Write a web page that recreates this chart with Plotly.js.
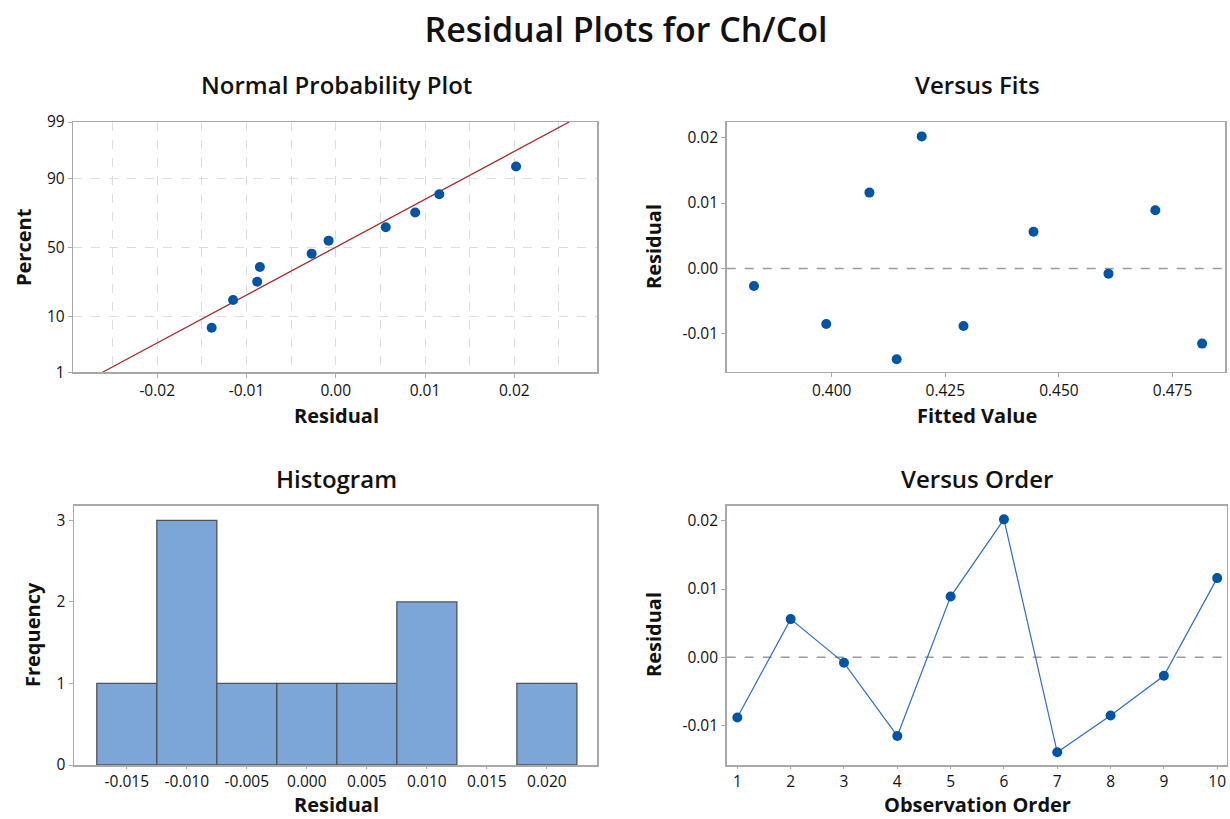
<!DOCTYPE html>
<html>
<head>
<meta charset="utf-8">
<script src="https://cdn.plot.ly/plotly-3.0.1.min.js"></script>
<style>
  html, body { margin: 0; padding: 0; background: #ffffff; }
  #chart { width: 1230px; height: 819px; }
</style>
</head>
<body>
<div id="chart"></div>
<script>
// Residuals and fitted values, listed in observation order
const observationOrder = [1, 2, 3, 4, 5, 6, 7, 8, 9, 10];
const residuals = [-0.0088, 0.0056, -0.0008, -0.0115, 0.0089, 0.0202, -0.0139, -0.0085, -0.0027, 0.0116];
const fittedValues = [0.4290, 0.4444, 0.4609, 0.4815, 0.4712, 0.4198, 0.4143, 0.3988, 0.3829, 0.4083];

// Plotting percentages of the sorted residuals on the normal probability scale
const probPercent = [6.7, 16.3, 26.0, 35.6, 45.2, 54.8, 64.4, 74.0, 83.7, 93.3];
const probTickPercent = [1, 10, 50, 90, 99];

// Tick values for the residual and histogram axes
const normalTicks = [-0.02, -0.01, 0.00, 0.01, 0.02];
const residTicks = [-0.01, 0.00, 0.01, 0.02];
const fitTicks = [0.400, 0.425, 0.450, 0.475];
const histTicks = [-0.015, -0.010, -0.005, 0.000, 0.005, 0.010, 0.015, 0.020];

// Inverse standard normal CDF (Acklam's rational approximation)
function qnorm(p) {
  const a = [-3.969683028665376e+01, 2.209460984245205e+02, -2.759285104469687e+02,
             1.383577518672690e+02, -3.066479806614716e+01, 2.506628277459239e+00];
  const b = [-5.447609879822406e+01, 1.615858368580409e+02, -1.556989798598866e+02,
             6.680131188771972e+01, -1.328068155288572e+01];
  const c = [-7.784894002430293e-03, -3.223964580411365e-01, -2.400758277161838e+00,
             -2.549671010422000e+00, 4.374664141464968e+00, 2.938163982698783e+00];
  const d = [7.784695709041462e-03, 3.224671290700398e-01, 2.445134137142996e+00,
             3.754408661907416e+00];
  const pl = 0.02425, ph = 1 - pl;
  let q, r;
  if (p < pl) {
    q = Math.sqrt(-2 * Math.log(p));
    return (((((c[0]*q + c[1])*q + c[2])*q + c[3])*q + c[4])*q + c[5]) /
           ((((d[0]*q + d[1])*q + d[2])*q + d[3])*q + 1);
  } else if (p <= ph) {
    q = p - 0.5; r = q * q;
    return (((((a[0]*r + a[1])*r + a[2])*r + a[3])*r + a[4])*r + a[5]) * q /
           (((((b[0]*r + b[1])*r + b[2])*r + b[3])*r + b[4])*r + 1);
  } else {
    q = Math.sqrt(-2 * Math.log(1 - p));
    return -(((((c[0]*q + c[1])*q + c[2])*q + c[3])*q + c[4])*q + c[5]) /
            ((((d[0]*q + d[1])*q + d[2])*q + d[3])*q + 1);
  }
}

const sortedResid = residuals.slice().sort((u, v) => u - v);
const n = residuals.length;
const mean = residuals.reduce((s, v) => s + v, 0) / n;
const sd = Math.sqrt(residuals.reduce((s, v) => s + (v - mean) ** 2, 0) / (n - 1));
const zLow = qnorm(probTickPercent[0] / 100);
const zHigh = qnorm(probTickPercent[probTickPercent.length - 1] / 100);

const FONT = '"Open Sans", "Noto Sans", "DejaVu Sans", sans-serif';
const BLUE = '#0054A6';
const BORDER = '#A8A8A8';
const TICKCOL = '#111111';

const W = 1230, H = 819;
const px = v => v / W;
const py = v => 1 - v / H;

function frame(extra) {
  return Object.assign({
    showline: true, mirror: true, linecolor: BORDER, linewidth: 1.5,
    ticks: 'outside', ticklen: 4, tickwidth: 1, tickcolor: BORDER,
    tickfont: { family: FONT, size: 15.5, color: TICKCOL },
    showgrid: false, zeroline: false, fixedrange: true
  }, extra);
}

const traces = [
  // Normal probability plot: fitted normal line
  {
    type: 'scatter', mode: 'lines', xaxis: 'x', yaxis: 'y',
    x: [mean + sd * zLow, mean + sd * zHigh], y: [zLow, zHigh],
    line: { color: '#A8282A', width: 1.3 }, hoverinfo: 'skip'
  },
  // Normal probability plot: residual points
  {
    type: 'scatter', mode: 'markers', xaxis: 'x', yaxis: 'y',
    x: sortedResid, y: probPercent.map(p => qnorm(p / 100)),
    marker: { color: BLUE, size: 10 }
  },
  // Versus fits
  {
    type: 'scatter', mode: 'markers', xaxis: 'x2', yaxis: 'y2',
    x: fittedValues, y: residuals,
    marker: { color: BLUE, size: 10 }
  },
  // Histogram of residuals
  {
    type: 'histogram', xaxis: 'x3', yaxis: 'y3',
    x: residuals,
    xbins: { start: -0.0175, end: 0.0225, size: 0.005 },
    marker: { color: '#7DA6D8', line: { color: '#525252', width: 1.3 } }
  },
  // Versus order
  {
    type: 'scatter', mode: 'lines+markers', xaxis: 'x4', yaxis: 'y4',
    x: observationOrder, y: residuals,
    line: { color: '#2F6DC0', width: 1.2 },
    marker: { color: BLUE, size: 10 }
  }
];

// Panel titles and axis titles, placed in pixels: [text, x, y, angle, vertical anchor]
const panelTitles = [
  ['Normal Probability Plot', 336, 85],
  ['Versus Fits', 977, 85],
  ['Histogram', 336, 478],
  ['Versus Order', 977, 478]
];
const axisTitles = [
  ['Residual', 336, 415, 0, 'middle'],
  ['Percent', 23, 247, -90, 'middle'],
  ['Fitted Value', 977, 415, 0, 'middle'],
  ['Residual', 653, 247, -90, 'middle'],
  ['Residual', 336, 818.6, 0, 'bottom'],
  ['Frequency', 32, 635, -90, 'middle'],
  ['Observation Order', 977, 818.6, 0, 'bottom'],
  ['Residual', 653, 635, -90, 'middle']
];

const layout = {
  width: W, height: H,
  margin: { l: 0, r: 0, t: 0, b: 0 },
  paper_bgcolor: '#ffffff', plot_bgcolor: '#ffffff',
  showlegend: false, bargap: 0,
  title: {
    text: 'Residual Plots for Ch/Col',
    x: px(626), xanchor: 'center', y: py(30), yanchor: 'middle',
    font: { family: FONT, size: 34, color: '#111', weight: 600 }
  },
  // Normal probability plot
  xaxis: frame({
    domain: [px(73.3), px(597.3)], range: [-0.0294, 0.0293], anchor: 'y',
    tickvals: normalTicks, ticktext: normalTicks.map(v => v.toFixed(2)),
    showgrid: true, gridcolor: '#DCDCDC', griddash: 'dash', gridwidth: 1,
    minor: { dtick: 0.005, tick0: 0, showgrid: true, gridcolor: '#DCDCDC', griddash: 'dash', gridwidth: 1, ticks: '' }
  }),
  yaxis: frame({
    domain: [py(372.3), py(122)], range: [zLow, zHigh], anchor: 'x',
    tickvals: probTickPercent.map(p => qnorm(p / 100)), ticktext: probTickPercent.map(String),
    showgrid: true, gridcolor: '#DCDCDC', griddash: 'dash', gridwidth: 1
  }),
  // Versus fits
  xaxis2: frame({
    domain: [px(726.7), px(1225.3)], range: [0.3769, 0.4866], anchor: 'y2',
    tickvals: fitTicks, ticktext: fitTicks.map(v => v.toFixed(3))
  }),
  yaxis2: frame({
    domain: [py(371.7), py(122)], range: [-0.0158, 0.0224], anchor: 'x2',
    tickvals: residTicks, ticktext: residTicks.map(v => v.toFixed(2))
  }),
  // Histogram
  xaxis3: frame({
    domain: [px(74), px(597.3)], range: [-0.0194, 0.0242], anchor: 'y3',
    tickvals: histTicks, ticktext: histTicks.map(v => v.toFixed(3)), ticklen: 2
  }),
  yaxis3: frame({
    domain: [py(765), py(505.7)], range: [0, 3.18], anchor: 'x3',
    tickvals: [0, 1, 2, 3]
  }),
  // Versus order
  xaxis4: frame({
    domain: [px(726.7), px(1226.8)], range: [0.8, 10.18], anchor: 'y4',
    tickvals: observationOrder, ticklen: 2
  }),
  yaxis4: frame({
    domain: [py(765.3), py(505.7)], range: [-0.0158, 0.0222], anchor: 'x4',
    tickvals: residTicks, ticktext: residTicks.map(v => v.toFixed(2))
  }),
  shapes: [
    { type: 'line', xref: 'x2 domain', yref: 'y2', x0: 0, x1: 1, y0: 0, y1: 0,
      line: { color: '#9A9A9A', width: 1.5, dash: 'dash' }, layer: 'below' },
    { type: 'line', xref: 'x4 domain', yref: 'y4', x0: 0, x1: 1, y0: 0, y1: 0,
      line: { color: '#9A9A9A', width: 1.5, dash: 'dash' }, layer: 'below' }
  ],
  annotations: panelTitles.map(([t, x, y]) => ({
    text: t, xref: 'paper', yref: 'paper', x: px(x), y: py(y),
    xanchor: 'center', yanchor: 'middle', showarrow: false,
    font: { family: FONT, size: 24, color: '#111', weight: 600 }
  })).concat(axisTitles.map(([t, x, y, ang, va]) => ({
    text: t, xref: 'paper', yref: 'paper', x: px(x), y: py(y), textangle: ang,
    xanchor: 'center', yanchor: va, showarrow: false, borderpad: 0,
    font: { family: FONT, size: 20, color: '#111', weight: 'bold' }
  })))
};

Plotly.newPlot('chart', traces, layout, { displayModeBar: false, staticPlot: true });
</script>
</body>
</html>
